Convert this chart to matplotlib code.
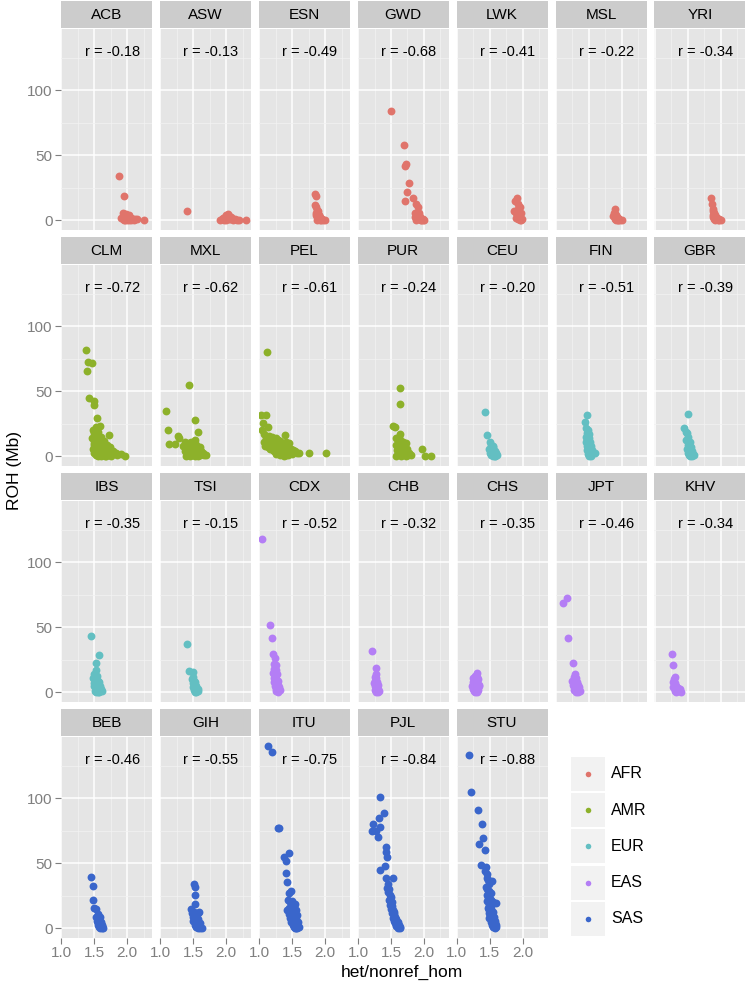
import matplotlib
matplotlib.use("Agg")
import matplotlib.pyplot as plt
from matplotlib.patches import Rectangle

plt.rcParams['font.family'] = ['Liberation Sans', 'DejaVu Sans']

# populations in facet order, with their super-population and correlation
pops = ["ACB", "ASW", "ESN", "GWD", "LWK", "MSL", "YRI",
        "CLM", "MXL", "PEL", "PUR", "CEU", "FIN", "GBR",
        "IBS", "TSI", "CDX", "CHB", "CHS", "JPT", "KHV",
        "BEB", "GIH", "ITU", "PJL", "STU"]
regions = ["AFR"] * 7 + ["AMR"] * 4 + ["EUR"] * 5 + ["EAS"] * 5 + ["SAS"] * 5
r_values = [-0.18, -0.13, -0.49, -0.68, -0.41, -0.22, -0.34,
            -0.72, -0.62, -0.61, -0.24, -0.20, -0.51, -0.39,
            -0.35, -0.15, -0.52, -0.32, -0.35, -0.46, -0.34,
            -0.46, -0.55, -0.75, -0.84, -0.88]
region_names = ["AFR", "AMR", "EUR", "EAS", "SAS"]
region_colors = ["#E0746B", "#8DB12A", "#63BFC2", "#B47EF5", "#3A66CB"]

# het/nonref_hom (x) and ROH in Mb (y)
ACB_het = [1.88,1.95,1.93,1.96,1.98,2.00,2.02,2.04,1.91,1.94,1.97,2.01,2.05,2.08,2.10,2.12,2.15,1.99,2.03,2.06,1.95,2.00,2.25]
ACB_roh = [34,19,6,4,5,3,4,2,2,1,0.5,1,2,1,0.5,1.5,1,0,0.3,0.5,0,2.5,0.5]
ASW_het = [1.41,1.90,1.95,1.98,2.00,2.03,2.05,2.08,2.10,2.13,2.16,2.20,1.93,1.97,2.01,2.06,2.11,2.00,2.04,2.30]
ASW_roh = [7,0.5,2,3,4,5,3.5,2.5,1.5,1,0.5,0,1,0.5,2,1,0.3,0,1,0.5]
ESN_het = [1.84,1.86,1.85,1.87,1.88,1.86,1.89,1.90,1.87,1.91,1.88,1.92,1.89,1.93,1.90,1.95,1.88,1.92,1.97,1.94,2.00]
ESN_roh = [20,18.5,12,10,8,6,7,5,4,4.5,3,3,2,2,1,1.5,0.5,0,0.5,0,0.3]
GWD_het = [1.50,1.70,1.71,1.73,1.77,1.74,1.71,1.84,1.88,1.91,1.86,1.89,1.92,1.94,1.87,1.90,1.93,1.96,1.98,2.00,1.92,1.95,1.88,1.99]
GWD_roh = [84,58,42,43.5,29,21.5,15,17.5,13,10.5,6,5,4,3,2.5,2,1,0.5,1.5,0,5.5,0,0.5,0.3]
LWK_het = [1.91,1.88,1.92,1.95,1.93,1.87,1.89,1.97,1.92,1.94,1.90,1.96,1.93,1.98,1.95,1.97]
LWK_roh = [17.5,15,13,10.5,9,7.5,6,5.5,4,3,2,2.5,1,1,0,0.3]
MSL_het = [1.89,1.88,1.90,1.92,1.87,1.91,1.93,1.95,1.89,1.92,1.96,1.94,1.98,2.00,1.91,1.95]
MSL_roh = [8.5,6,5,4.5,3.5,3,2.5,2,1.5,1,1,0.5,0.5,0.3,0,0]
YRI_het = [1.85,1.87,1.88,1.89,1.90,1.88,1.91,1.93,1.89,1.92,1.95,1.90,1.94,1.97,1.92,1.96,2.00,1.98]
YRI_roh = [17,13,9,7,5.5,4,4,3,2.5,2,2,1,1,1,0.5,0.3,0.5,0]

CLM_het = [1.37,1.40,1.46,1.39,1.42,1.49,1.50,1.54,1.58,1.52,1.72,1.48,1.50,1.53,1.56,1.60,1.47,1.51,1.55,1.58,1.62,1.65,1.49,1.52,1.57,1.61,1.66,1.70,1.48,1.53,1.56,1.63,1.68,1.74,1.78,1.50,1.54,1.59,1.64,1.69,1.73,1.80,1.83,1.52,1.57,1.62,1.67,1.72,1.76,1.85,1.91,1.96,1.60,1.66,1.75,1.55,1.49]
CLM_roh = [81.5,72.5,71.5,66,45,42.5,39.5,29.5,23.5,22.5,16.5,20,18,17,19,15,14,13,12,11,10,12,9,8,8.5,7,8,9,6,5,6.5,5,6,7,4.5,3,3.5,4,3,2,3.5,2.5,2.5,1,1.5,1,0.5,1.5,1,1,2,0.5,0,0.3,0.2,0,10.5]
MXL_het = [1.43,1.08,1.12,1.27,1.28,1.14,1.22,1.52,1.58,1.52,1.37,1.35,1.40,1.44,1.47,1.50,1.53,1.56,1.60,1.42,1.46,1.49,1.55,1.62,1.38,1.44,1.51,1.57,1.65,1.70,1.41,1.48,1.54,1.60,1.66,1.39,1.45,1.52,1.58]
MXL_roh = [54.5,35,20,16,14.5,9.5,9.5,28,19,12.8,10.8,8,9,10,11,9,10,8,7,6,5,7,5,4,4,3.5,3,4,2.3,0.8,2,1.5,2,1,1.5,0.5,0.3,0,0.5]
PEL_het = [1.12,1.03,1.11,1.06,1.13,1.39,1.05,1.08,1.10,1.15,1.18,1.20,1.07,1.12,1.16,1.22,1.25,1.28,1.32,1.09,1.14,1.19,1.24,1.30,1.35,1.40,1.45,1.17,1.21,1.27,1.33,1.38,1.43,1.48,1.52,1.23,1.29,1.36,1.42,1.47,1.55,1.60,1.26,1.34,1.41,1.50,1.58,1.75,2.01,1.31,1.37,1.44]
PEL_roh = [80.5,32,31.5,26,22.5,16.5,20,17,14,16,13,15,11,10,12,11,14,13,12,8,7,9,8,10,9,11,10,6,5,7,6,8,7,6,5,4,3,5,4,3,4,3,2,2,1.5,2,2.5,2.5,3,1,0.5,1]
PUR_het = [1.63,1.63,1.53,1.56,1.63,1.57,1.60,1.62,1.65,1.68,1.72,1.58,1.61,1.64,1.67,1.70,1.75,1.59,1.62,1.66,1.69,1.73,1.78,1.60,1.63,1.67,1.71,1.76,1.80,1.97,2.01,2.11,1.58,1.65,1.72]
PUR_roh = [52.5,40.5,23.5,22.5,17,14,13,15,12,11,10,9,8,10,7,8,6,5,6,4,5,4,3,2,3,1.5,2,1,1,5.5,0,0,0.5,0.3,0]

CEU_het = [1.43,1.45,1.50,1.52,1.54,1.49,1.51,1.55,1.58,1.50,1.53,1.56,1.60,1.52,1.55,1.58,1.61,1.54,1.57]
CEU_roh = [34.5,16.5,11,9,8,6,5,7,4,3,3.5,2,3,1,1.5,0.5,1,0,0.3]
FIN_het = [1.48,1.44,1.46,1.49,1.47,1.50,1.45,1.48,1.51,1.46,1.49,1.52,1.47,1.50,1.53,1.48,1.51,1.55,1.49,1.52,1.59,1.50,1.53]
FIN_roh = [31.5,26.5,22,20,18,17,15,13,14,11,10,11,8,7,8,5,4,5,2,2,3,0.5,0]
GBR_het = [1.51,1.45,1.47,1.49,1.50,1.48,1.51,1.53,1.50,1.52,1.55,1.49,1.53,1.56,1.51,1.54,1.58,1.52,1.56,1.54,1.60]
GBR_roh = [33,22,19,18,15,13,12,11,9,8,7,6,5,4.5,3,2.5,2,1,0.5,0,1]
IBS_het = [1.45,1.57,1.53,1.52,1.50,1.54,1.48,1.51,1.55,1.49,1.53,1.57,1.50,1.54,1.58,1.52,1.56,1.60,1.51,1.55,1.62,1.53,1.57]
IBS_roh = [43,28.5,22.5,17,14,13,11,10,9,7,6,8,5,4,5,3,2,3,1,0.5,1.5,0,0.3]
TSI_het = [1.40,1.44,1.49,1.50,1.48,1.51,1.53,1.49,1.52,1.55,1.50,1.54,1.57,1.51,1.55,1.52,1.58,1.54]
TSI_roh = [37,16.5,15.5,12,10,9,8,7,6,5,4,3.5,3,2,1.5,0.5,1,0]

CDX_het = [1.04,1.16,1.20,1.21,1.24,1.22,1.25,1.23,1.26,1.21,1.24,1.27,1.22,1.25,1.28,1.23,1.26,1.29,1.24,1.27,1.30,1.25,1.28,1.32,1.26,1.29]
CDX_roh = [118,52,42,29.5,26.5,22,21,18,17,15,13,14,11,10,9,8,7,6,5,4,4,3,2,2,1,0.5]
CHB_het = [1.21,1.28,1.27,1.25,1.28,1.26,1.29,1.24,1.27,1.30,1.25,1.28,1.31,1.26,1.29,1.32,1.27,1.30]
CHB_roh = [31.5,19,14,12,11,9,8,7,6,6,5,4,3,2,2,1,0.5,0]
CHS_het = [1.30,1.28,1.31,1.25,1.27,1.30,1.32,1.24,1.26,1.29,1.33,1.23,1.25,1.28,1.31,1.34,1.24,1.27,1.30,1.26,1.29,1.32,1.27,1.30]
CHS_roh = [15,13,12,11,10,9,10,8,7,8,6,5,6,5,4,5,3,3,2,1.5,1,2,0,0.3]
JPT_het = [1.11,1.17,1.19,1.26,1.29,1.27,1.30,1.25,1.28,1.32,1.26,1.29,1.33,1.27,1.31,1.35,1.28,1.32,1.30,1.34,1.37,1.31,1.33]
JPT_roh = [69,72.5,42,22.5,14.5,12,11,9,8,8,6,5,6,4,3,4,2,2,1,1,1.5,0,0.3]
KHV_het = [1.26,1.28,1.30,1.29,1.27,1.31,1.30,1.33,1.28,1.32,1.35,1.30,1.34,1.38,1.31,1.36,1.33,1.40]
KHV_roh = [29.5,21,12,10,8,7,6,5,4,4,3.5,2,2,2.5,1,1,0,0.5]

BEB_het = [1.45,1.48,1.48,1.49,1.53,1.56,1.52,1.55,1.58,1.54,1.57,1.60,1.55,1.58,1.61,1.56,1.59,1.62,1.57,1.60,1.63,1.58,1.61]
BEB_roh = [39.5,33,21.5,15.5,15,11,9,8,9,6,6,5,4,4,3,2.5,2,2,1,1,0.5,0,0.3]
GIH_het = [1.51,1.52,1.52,1.52,1.46,1.59,1.48,1.51,1.54,1.57,1.49,1.52,1.55,1.58,1.50,1.53,1.56,1.60,1.52,1.55,1.58,1.54,1.57,1.60,1.63]
GIH_roh = [34,32,25.5,18.5,15,13,12,13,11,12,9,8,9,7,6,5,6,4,3,2,3,1,0.5,0.5,0]
ITU_het = [1.14,1.19,1.29,1.30,1.37,1.46,1.40,1.41,1.43,1.45,1.49,1.42,1.55,1.44,1.47,1.50,1.53,1.46,1.49,1.52,1.56,1.45,1.48,1.51,1.54,1.57,1.47,1.50,1.53,1.56,1.59,1.49,1.52,1.55,1.58,1.51,1.54,1.57,1.60,1.53,1.56,1.59,1.55,1.58]
ITU_roh = [140,135.5,77,77.5,55,58,51.5,42.5,36,27,28.5,14.5,18.5,22,20,21,17,16,15,13,14,11,10,12,9,10,8,7,6,7,5,5,4,4,3,3,2,2.5,1.5,1,0.5,1,0,0.3]
PJL_het = [1.34,1.39,1.32,1.22,1.34,1.21,1.28,1.30,1.42,1.42,1.44,1.41,1.34,1.43,1.53,1.46,1.44,1.47,1.45,1.48,1.50,1.47,1.49,1.51,1.48,1.52,1.50,1.53,1.55,1.51,1.54,1.56,1.53,1.56,1.58,1.55,1.57,1.60,1.56,1.59,1.62,1.58,1.61,1.64,1.60,1.63]
PJL_roh = [101,89,85,80,78,74.5,75,70,62.5,59,54.5,48,45,39,38.5,34,31,30,28,26,24,22,21,20,18,17,15,14,13,12,11,9,8,7,7,6,5,5,4,3.5,3,2,1.5,1,0.5,0]
STU_het = [1.18,1.22,1.32,1.38,1.34,1.40,1.42,1.36,1.44,1.46,1.53,1.43,1.45,1.47,1.49,1.44,1.46,1.48,1.51,1.45,1.47,1.50,1.52,1.46,1.48,1.51,1.54,1.47,1.49,1.52,1.55,1.60,1.48,1.50,1.53,1.56,1.49,1.52,1.55,1.58,1.51,1.54,1.57,1.60,1.53,1.56,1.59,1.55,1.58]
STU_roh = [133.5,105,91,80.5,65,69.5,60.5,49,47.5,39,36.5,44,42,37,34,32,30,29,27,26,24,23,22,21,18,17,20,16,14,15,13,19.5,12,10,11,9,8,7,8,6,5,5,4,3,3,2,1,1,0.3]

points = {p: (globals()[p + "_het"], globals()[p + "_roh"]) for p in pops}
color_of = dict(zip(region_names, region_colors))

W, H = 747, 985
fig = plt.figure(figsize=(W / 100, H / 100), dpi=100)

def box(left, top, w, h):
    return [left / W, 1 - (top + h) / H, w / W, h / H]

ncol = 7
panel_w, panel_h, strip_h = 91, 201, 28
col_lefts = [61 + i * 98.9 for i in range(ncol)]
strip_tops = [1, 237, 473, 709]
grey_txt = "#7F7F7F"

for i, pop in enumerate(pops):
    row, col = divmod(i, ncol)
    left = col_lefts[col]
    top = strip_tops[row] + strip_h
    ax = fig.add_axes(box(left, top, panel_w, panel_h))
    ax.set_facecolor("#E5E5E5")
    for s in ax.spines.values():
        s.set_visible(False)
    ax.set_xlim(0.995, 2.375)
    ax.set_ylim(-7.3, 147)
    ax.set_xticks([1.0, 1.5, 2.0])
    ax.set_xticks([1.25, 1.75, 2.25], minor=True)
    ax.set_yticks([0, 50, 100])
    ax.set_yticks([25, 75, 125], minor=True)
    ax.grid(which="major", color="white", linewidth=1.1)
    ax.grid(which="minor", color="#F2F2F2", linewidth=0.55)
    ax.set_axisbelow(True)
    ax.tick_params(which="minor", length=0)
    ax.tick_params(which="major", length=4, width=0.8, color=grey_txt,
                   labelcolor=grey_txt, labelsize=11, pad=2)
    if col != 0:
        ax.tick_params(left=False, labelleft=False)
    if row != 3:
        ax.tick_params(bottom=False, labelbottom=False)
    else:
        ax.set_xticklabels(["1.0", "1.5", "2.0"])

    xs, ys = points[pop]
    ax.scatter(xs, ys, s=32, color=color_of[regions[i]], linewidths=0, zorder=3)
    ax.text(1.77, 129, f"r = {r_values[i]:.2f}", ha="center", va="center",
            fontsize=10.5, color="black")

    st = fig.add_axes(box(left, strip_tops[row], panel_w, strip_h - 1))
    st.set_facecolor("#CCCCCC")
    st.set_xticks([])
    st.set_yticks([])
    for s in st.spines.values():
        s.set_visible(False)
    st.text(0.5, 0.47, pop, ha="center", va="center", fontsize=11,
            transform=st.transAxes)

fig.text(402 / W, 1 - 972 / H, "het/nonref_hom", ha="center", va="center", fontsize=12.5)
fig.text(15 / W, 1 - 470 / H, "ROH (Mb)", ha="center", va="center",
         rotation=90, fontsize=12.5)

# legend drawn in pixel coordinates
lg = fig.add_axes([0, 0, 1, 1], facecolor="none")
lg.set_xlim(0, W)
lg.set_ylim(H, 0)
lg.axis("off")
for k, (name, c) in enumerate(zip(region_names, region_colors)):
    ky = 757 + k * 36.2
    lg.add_patch(Rectangle((571, ky), 34, 34, facecolor="#F2F2F2", edgecolor="none"))
    lg.scatter([588], [ky + 17], s=16, color=c, linewidths=0)
    lg.text(611, ky + 17, name, ha="left", va="center", fontsize=11.5)

fig.savefig("out.png", dpi=100)
